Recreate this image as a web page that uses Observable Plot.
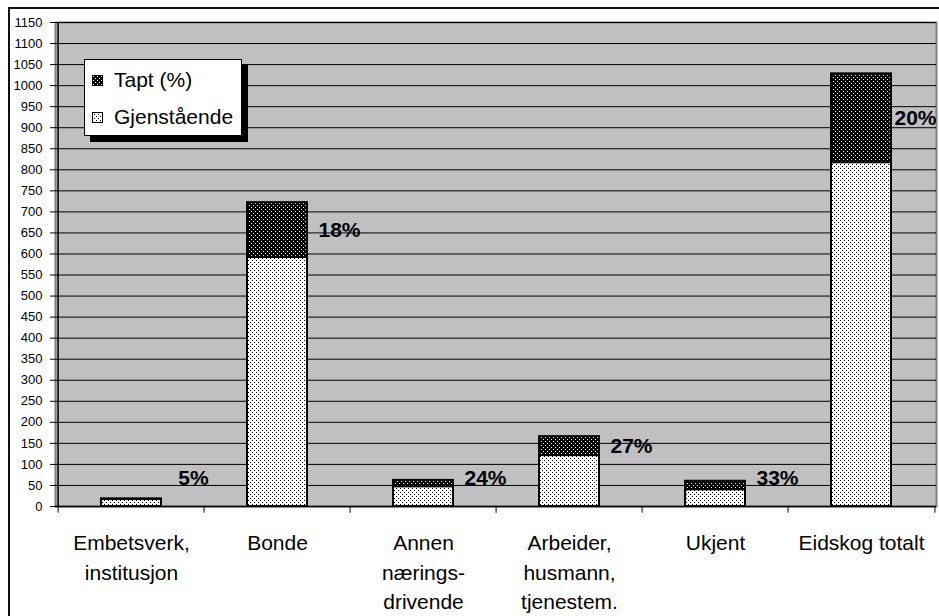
<!DOCTYPE html>
<html><head><meta charset="utf-8">
<script src="https://cdn.jsdelivr.net/npm/d3@7"></script>
<script src="https://cdn.jsdelivr.net/npm/@observablehq/plot@0.6"></script>
<style>
body{margin:0;background:#fff;font-family:"Liberation Sans",Arial,sans-serif;color:#000}
#wrap{position:relative;width:939px;height:616px;overflow:hidden}
#border{position:absolute;left:8px;top:7px;width:960px;height:640px;border-top:2px solid #111;border-left:2px solid #111;pointer-events:none}
#legend{position:absolute;left:84px;top:59px;width:156px;height:75px;background:#fff;border:1px solid #000;box-shadow:6px 6px 0 #000;font-size:21px;line-height:24px}
.item{position:absolute;left:7px;display:flex;align-items:center;white-space:nowrap}
.item svg{margin-right:11px}
</style>
</head><body>
<svg width="0" height="0" style="position:absolute">
  <defs>
    <pattern id="pGjen" width="4" height="4" patternUnits="userSpaceOnUse">
      <rect width="4" height="4" fill="#fff"/>
      <rect x="0" y="0" width="1" height="1" fill="#000"/>
      <rect x="2" y="2" width="1" height="1" fill="#000"/>
    </pattern>
    <pattern id="pTapt" width="4" height="4" patternUnits="userSpaceOnUse">
      <rect width="4" height="4" fill="#000"/>
      <rect x="1" y="1" width="1" height="1" fill="#fff"/>
      <rect x="3" y="3" width="1" height="1" fill="#fff"/>
    </pattern>
  </defs>
</svg>
<div id="wrap">
  <div id="chart"></div>
  <div id="border"></div>
  <div id="legend"></div>
</div>
<script>
// ---- data ----
const categories = ["Embetsverk, institusjon", "Bonde", "Annen næringsdrivende", "Arbeider, husmann, tjenestem.", "Ukjent", "Eidskog totalt"];
const categoryLabels = ["Embetsverk,\ninstitusjon", "Bonde", "Annen\nnærings-\ndrivende", "Arbeider,\nhusmann,\ntjenestem.", "Ukjent", "Eidskog totalt"];
const gjenstaaende = [17, 592, 47, 121, 40, 817];
const tapt = [1, 130, 15, 45, 20, 211];
const taptLabels = ["5%", "18%", "24%", "27%", "33%", "20%"];
const seriesNames = ["Gjenstående", "Tapt (%)"];
const yTicks = [0, 50, 100, 150, 200, 250, 300, 350, 400, 450, 500, 550, 600, 650, 700, 750, 800, 850, 900, 950, 1000, 1050, 1100, 1150];

// ---- layout ----
const W = 939, H = 616, ML = 55, MR = 3, MT = 22, MB = 110;
const step = (W - ML - MR) / categories.length;
const ns = "http://www.w3.org/2000/svg";

const stacked = categories.flatMap((c, i) => [
  {cat: c, series: seriesNames[0], value: gjenstaaende[i]},
  {cat: c, series: seriesNames[1], value: tapt[i]}
]);
const labelRows = categories.map((c, i) => ({cat: c, text: taptLabels[i], y: Math.max(gjenstaaende[i] + tapt[i] / 2, 66)}));
const catRows = categories.map((c, i) => ({cat: c, label: categoryLabels[i]}));
const last = categories[categories.length - 1];

const chart = Plot.plot({
  width: W, height: H,
  marginLeft: ML, marginRight: MR, marginTop: MT, marginBottom: MB,
  style: {fontFamily: '"Liberation Sans", Arial, sans-serif', background: "transparent", color: "#000", overflow: "visible"},
  x: {domain: categories, paddingInner: 0.59, paddingOuter: 0.295, axis: null},
  y: {domain: [0, 1150]},
  color: {domain: seriesNames, range: ["url(#pGjen)", "url(#pTapt)"]},
  marks: [
    Plot.frame({fill: "#c0c0c0", stroke: "#808080", strokeWidth: 2}),
    Plot.ruleY(yTicks, {stroke: "#000", strokeWidth: 1}),
    Plot.ruleX([categories[0]], {x: d => d, dx: -step / 2, y1: 0, y2: 1150, stroke: "#000", strokeWidth: 1.5}),
    Plot.ruleY([0], {stroke: "#000", strokeWidth: 1.5}),
    Plot.ruleX(categories, {x: d => d, dx: -step / 2, y1: 0, y2: -16, stroke: "#000"}),
    Plot.ruleX([last], {x: d => d, dx: step / 2, y1: 0, y2: -16, stroke: "#000"}),
    Plot.axisY({ticks: yTicks, tickSize: 5, tickPadding: 8, tickFormat: d => String(d), fontSize: 13, stroke: "#000", label: null}),
    Plot.barY(stacked, {x: "cat", y: "value", fill: "series", stroke: "#000", strokeWidth: 2}),
    Plot.text(labelRows.slice(0, 5), {x: "cat", y: "y", text: "text", dx: 62, fontSize: 21, fontWeight: "bold", textAnchor: "middle", fill: "#000", ariaLabel: "pct"}),
    Plot.text(labelRows.slice(5), {x: "cat", y: "y", text: "text", dx: 54, fontSize: 21, fontWeight: "bold", textAnchor: "middle", fill: "#000", ariaLabel: "pct"}),
    Plot.text(catRows, {x: "cat", y: d => 0, text: "label", lineAnchor: "top", dy: 23, lineHeight: 1.4, fontSize: 21, fill: "#000"})
  ]
});
document.getElementById("chart").appendChild(chart);

// grey boxes behind the percentage labels (hide gridlines like the original)
const svgRect = chart.getBoundingClientRect();
const pctGroups = chart.querySelectorAll('g[aria-label="pct"]');
if (pctGroups.length) {
  const bg = document.createElementNS(ns, "g");
  pctGroups.forEach(g => g.querySelectorAll("text").forEach(t => {
    const r = t.getBoundingClientRect();
    const x0 = r.left - svgRect.left - 4;
    const x1 = Math.min(r.right - svgRect.left + 4, W - MR - 1);
    const cy = (r.top + r.bottom) / 2 - svgRect.top;
    const rect = document.createElementNS(ns, "rect");
    rect.setAttribute("x", x0); rect.setAttribute("width", x1 - x0);
    rect.setAttribute("y", cy - 26); rect.setAttribute("height", 52);
    rect.setAttribute("fill", "#c0c0c0");
    bg.appendChild(rect);
  }));
  chart.insertBefore(bg, pctGroups[0]);
}

// legend (inside the plot area)
const legend = document.getElementById("legend");
const fills = {"Tapt (%)": "url(#pTapt)", "Gjenstående": "url(#pGjen)"};
["Tapt (%)", "Gjenstående"].forEach((name, i) => {
  const item = document.createElement("div");
  item.className = "item";
  item.style.top = (i === 0 ? 8 : 45) + "px";
  item.innerHTML = `<svg width="11" height="11"><rect x="0.5" y="0.5" width="10" height="10" fill="${fills[name]}" stroke="#000"/></svg><span>${name}</span>`;
  legend.appendChild(item);
});
</script>
</body></html>
